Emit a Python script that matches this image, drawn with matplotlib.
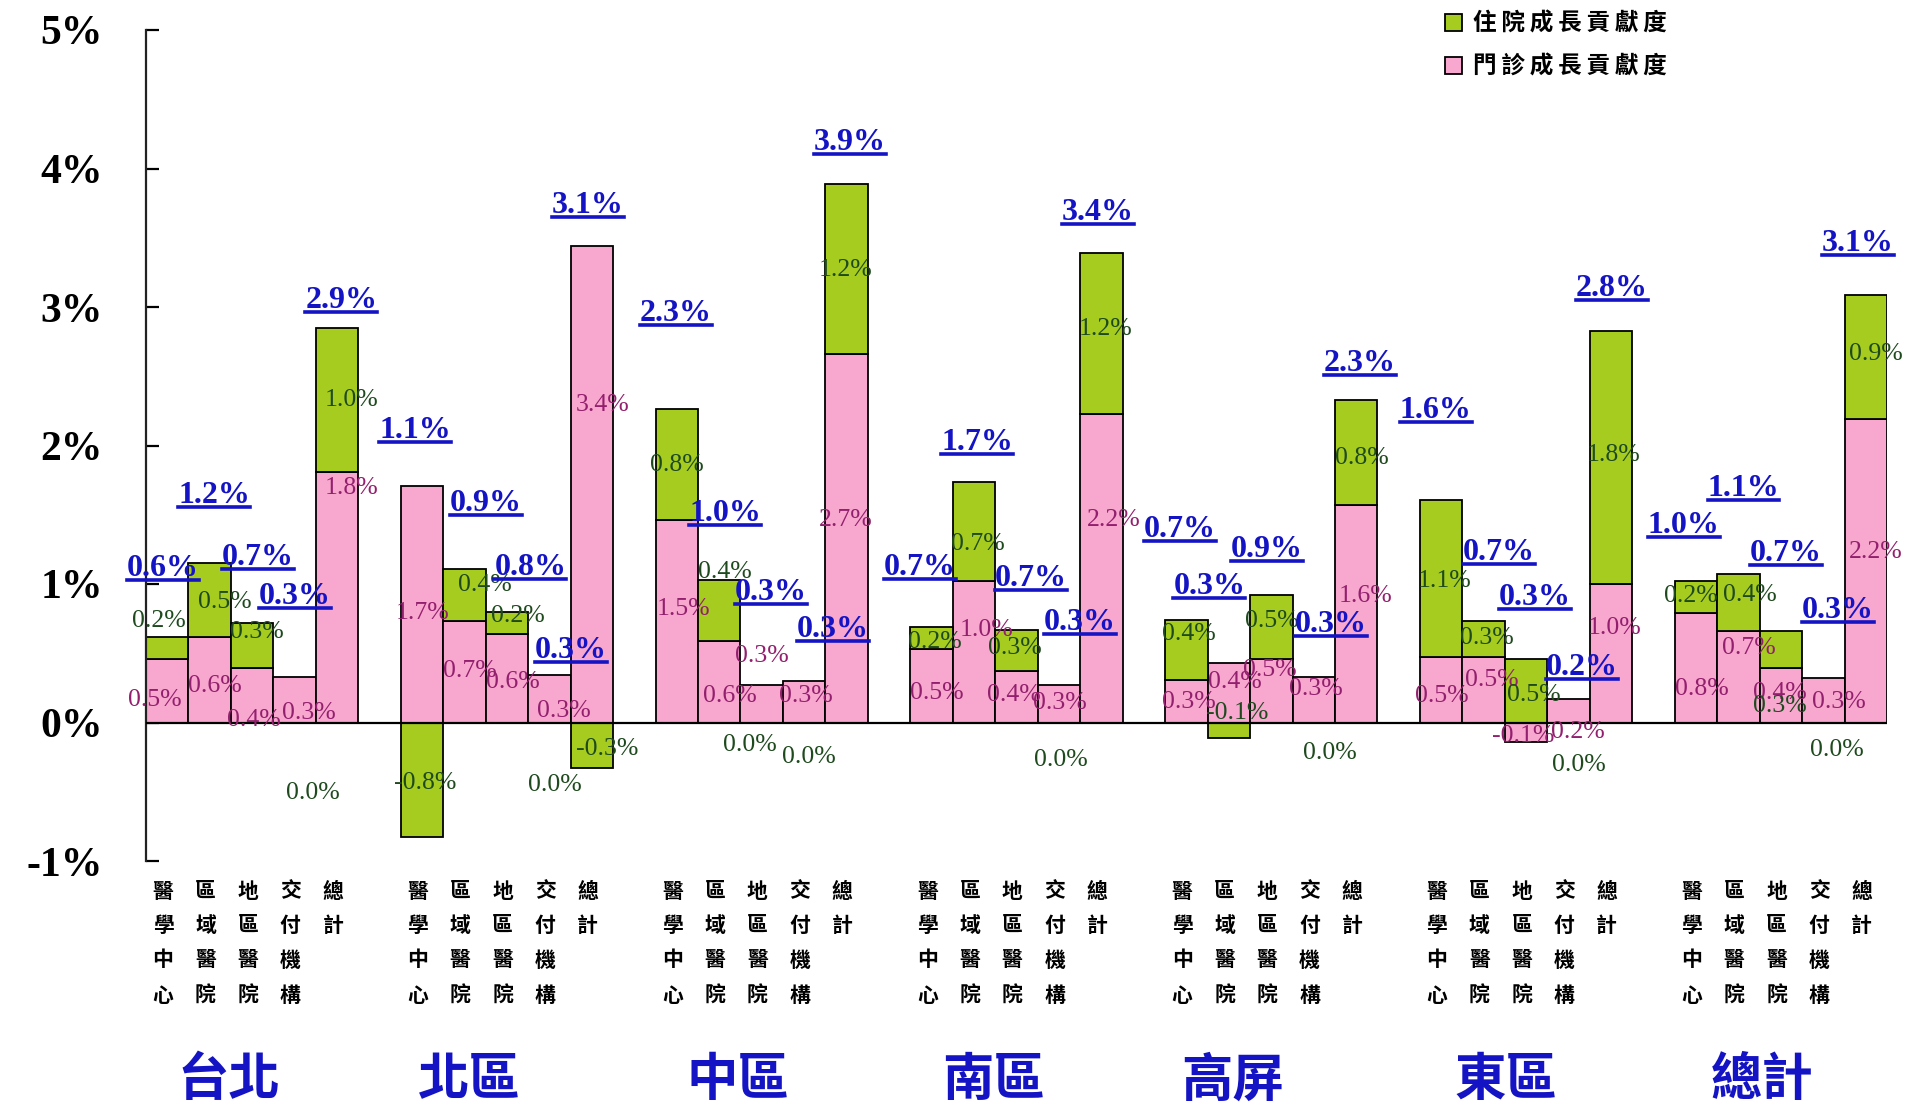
import matplotlib
matplotlib.use('Agg')
import matplotlib.pyplot as plt
from matplotlib.patches import Patch
from matplotlib.lines import Line2D
from matplotlib.font_manager import FontProperties
import matplotlib.transforms as mtransforms

plt.rcParams['font.family'] = ['Liberation Serif', 'Noto Sans CJK TC', 'DejaVu Sans']

# ---------------- data ----------------
regions = ['台北', '北區', '中區', '南區', '高屏', '東區', '總計']
categories = ['醫學中心', '區域醫院', '地區醫院', '交付機構', '總計']
series_names = ['住院成長貢獻度', '門診成長貢獻度']

# 門診成長貢獻度 (pink, %)
outpatient = [
    [0.46, 0.62, 0.39, 0.33, 1.81],
    [1.71, 0.73, 0.64, 0.34, 3.44],
    [1.46, 0.59, 0.27, 0.30, 2.66],
    [0.53, 1.02, 0.37, 0.27, 2.23],
    [0.31, 0.43, 0.46, 0.33, 1.57],
    [0.47, 0.47, -0.14, 0.17, 1.00],
    [0.79, 0.66, 0.39, 0.32, 2.19],
]
# 住院成長貢獻度 (green, %)
inpatient = [
    [0.16, 0.53, 0.33, 0.00, 1.04],
    [-0.83, 0.38, 0.16, 0.00, -0.33],
    [0.80, 0.44, 0.00, 0.00, 1.23],
    [0.16, 0.72, 0.30, 0.00, 1.16],
    [0.43, -0.11, 0.46, 0.00, 0.76],
    [1.14, 0.26, 0.46, 0.00, 1.83],
    [0.23, 0.41, 0.27, 0.00, 0.90],
]
# total growth labels (%), per bar
total_growth = [
    [0.6, 1.2, 0.7, 0.3, 2.9],
    [0.9, 1.1, 0.8, 0.3, 3.1],
    [2.3, 1.0, 0.3, 0.3, 3.9],
    [0.7, 1.7, 0.7, 0.3, 3.4],
    [0.7, 0.3, 0.9, 0.3, 2.3],
    [1.6, 0.7, 0.3, 0.2, 2.8],
    [1.0, 1.1, 0.7, 0.3, 3.1],
]
yticks = [-1, 0, 1, 2, 3, 4, 5]

# ---------------- layout (label anchor positions, slot units / % units) ----------------
pink_label_pos = [
    [(0.21, 0.165), (1.63, 0.26), (2.55, 0.02), (3.84, 0.07), (4.84, 1.69)],
    [(6.51, 0.79), (7.62, 0.37), (8.65, 0.29), (9.85, 0.085), (10.75, 2.29)],
    [(12.66, 0.82), (13.75, 0.19), (14.5, 0.48), (15.54, 0.19), (16.47, 1.46)],
    [(18.63, 0.21), (19.8, 0.67), (20.44, 0.2), (21.53, 0.14), (22.78, 1.46)],
    [(24.56, 0.15), (25.65, 0.29), (26.47, 0.38), (27.56, 0.24), (28.72, 0.915)],
    [(30.52, 0.19), (31.69, 0.31), (32.43, -0.10), (33.72, -0.065), (34.58, 0.685)],
    [(36.64, 0.24), (37.74, 0.54), (38.48, 0.21), (39.87, 0.15), (40.73, 1.23)],
]
green_label_pos = [
    [(0.31, 0.73), (1.86, 0.87), (2.6, 0.65), (3.92, -0.51), (4.84, 2.33)],
    [(6.57, -0.44), (7.99, 0.99), (8.75, 0.77), (9.62, -0.45), (10.86, -0.19)],
    [(12.5, 1.86), (13.64, 1.085), (14.23, -0.16), (15.6, -0.25), (16.47, 3.27)],
    [(18.58, 0.58), (19.6, 1.29), (20.47, 0.54), (21.55, -0.27), (22.59, 2.84)],
    [(24.56, 0.64), (25.7, 0.07), (26.52, 0.73), (27.88, -0.22), (28.64, 1.91)],
    [(30.57, 1.02), (31.58, 0.61), (32.68, 0.2), (33.74, -0.31), (34.56, 1.93)],
    [(36.37, 0.91), (37.76, 0.92), (38.47, 0.12), (39.83, -0.2), (40.73, 2.66)],
]
total_label_pos = [
    [(0.4, 1.11), (1.6, 1.64), (2.64, 1.19), (3.5, 0.91), (4.6, 3.05)],
    [(8.0, 1.58), (6.34, 2.11), (9.05, 1.12), (10.0, 0.52), (10.4, 3.73)],
    [(12.48, 2.95), (13.64, 1.51), (14.72, 0.94), (16.18, 0.67), (16.58, 4.19)],
    [(18.23, 1.12), (19.57, 2.02), (20.84, 1.04), (22.0, 0.72), (22.42, 3.68)],
    [(24.35, 1.39), (25.04, 0.98), (26.4, 1.25), (27.9, 0.71), (28.58, 2.59)],
    [(30.37, 2.25), (31.86, 1.23), (32.71, 0.90), (33.82, 0.40), (34.52, 3.13)],
    [(36.21, 1.42), (37.62, 1.69), (38.62, 1.22), (39.85, 0.81), (40.31, 3.46)],
]
region_label_x = [1.96, 1.62, 1.94, 1.97, 1.6, 2.03, 2.06]

GREEN = '#A5CC1E'
PINK = '#F8A7CF'
GREEN_TXT = '#1E4A1E'
PINK_TXT = '#93206E'
BLUE = '#1414C4'
CJK = ['Noto Sans CJK TC', 'DejaVu Sans']
SERIF = 'Liberation Serif'

W, H = 1909, 1105
fig = plt.figure(figsize=(W / 100, H / 100), dpi=100)
ax = fig.add_axes([146 / W, (H - 861) / H, (1887 - 146) / W, (861 - 30) / H])

n_cat = len(categories)
slot = n_cat + 1
xs, ps, qs, gbs = [], [], [], []
for g in range(len(regions)):
    for j in range(n_cat):
        xs.append(g * slot + j + 0.5)
        p = outpatient[g][j]
        q = inpatient[g][j]
        ps.append(p)
        qs.append(q)
        gbs.append(max(p, 0) if q >= 0 else min(p, 0))

ax.bar(xs, ps, width=1.0, color=PINK, edgecolor='black', linewidth=1.3, zorder=2)
gx = [x for x, q in zip(xs, qs) if q != 0]
gq = [q for q in qs if q != 0]
gb = [b for b, q in zip(gbs, qs) if q != 0]
ax.bar(gx, gq, width=1.0, bottom=gb, color=GREEN, edgecolor='black', linewidth=1.3, zorder=2)

ax.set_xlim(0, len(regions) * slot - 1)
ax.set_ylim(-1, 5)
ax.axhline(0, color='black', lw=1.6, zorder=3)
for s in ['top', 'right', 'bottom']:
    ax.spines[s].set_visible(False)
ax.spines['left'].set_linewidth(1.6)
ax.spines['left'].set_color('#222222')
ax.set_xticks([])
ax.set_yticks(yticks)
ax.set_yticklabels([f'{v}%' for v in yticks], fontfamily=SERIF, fontweight='bold', fontsize=30)
ax.tick_params(axis='y', direction='in', length=9, width=1.6, pad=31, colors='black')

# segment labels
for g in range(len(regions)):
    for j in range(n_cat):
        px, py = pink_label_pos[g][j]
        ax.text(px, py, f'{outpatient[g][j]:.1f}%', color=PINK_TXT, fontsize=18.5,
                fontfamily=SERIF, ha='center', va='center', zorder=5, clip_on=False)
        gx_, gy_ = green_label_pos[g][j]
        ax.text(gx_, gy_, f'{inpatient[g][j]:.1f}%', color=GREEN_TXT, fontsize=18.5,
                fontfamily=SERIF, ha='center', va='center', zorder=5, clip_on=False)

# total labels (underlined)
total_texts = []
for g in range(len(regions)):
    for j in range(n_cat):
        tx, ty = total_label_pos[g][j]
        t = ax.text(tx, ty, f'{total_growth[g][j]:.1f}%', color=BLUE, fontsize=23,
                    fontweight='bold', fontfamily=SERIF, ha='center', va='center',
                    zorder=6, clip_on=False)
        total_texts.append(t)

# category labels (vertical characters)
trans = mtransforms.blended_transform_factory(ax.transData, fig.transFigure)
row_y = [891, 925.5, 960, 995.5]
for g in range(len(regions)):
    for j, cat in enumerate(categories):
        x = g * slot + j + 0.5 - 0.1
        for k, ch in enumerate(cat):
            ax.text(x, 1 - row_y[k] / H, ch, transform=trans, fontsize=15, fontweight='bold',
                    fontfamily=CJK, ha='center', va='center', color='black', clip_on=False)
    ax.text(g * slot + region_label_x[g], 1 - 1080 / H, regions[g], transform=trans,
            fontsize=37, fontweight='bold', fontfamily=CJK, color=BLUE,
            ha='center', va='center', clip_on=False)

# legend
handles = [Patch(facecolor=GREEN, edgecolor='black', linewidth=1.3, label='\u2009'.join(series_names[0])),
           Patch(facecolor=PINK, edgecolor='black', linewidth=1.3, label='\u2009'.join(series_names[1]))]
fig.legend(handles=handles, loc='upper left', bbox_to_anchor=(1445 / W, 1 - 12 / H),
           frameon=False, prop=FontProperties(family=CJK, size=17, weight='bold'),
           handlelength=0.7, handleheight=0.7, handletextpad=0.5, labelspacing=0.8,
           borderpad=0, borderaxespad=0)

# underlines
fig.canvas.draw()
renderer = fig.canvas.get_renderer()
inv = fig.transFigure.inverted()
for t in total_texts:
    bb = t.get_window_extent(renderer)
    (x0, y0), (x1, y1) = inv.transform([(bb.x0, bb.y0), (bb.x1, bb.y1)])
    yl = y0 + 3 / H
    fig.add_artist(Line2D([x0, x1], [yl, yl], transform=fig.transFigure, color=BLUE, lw=2.6))

fig.savefig('out.png', dpi=100)
